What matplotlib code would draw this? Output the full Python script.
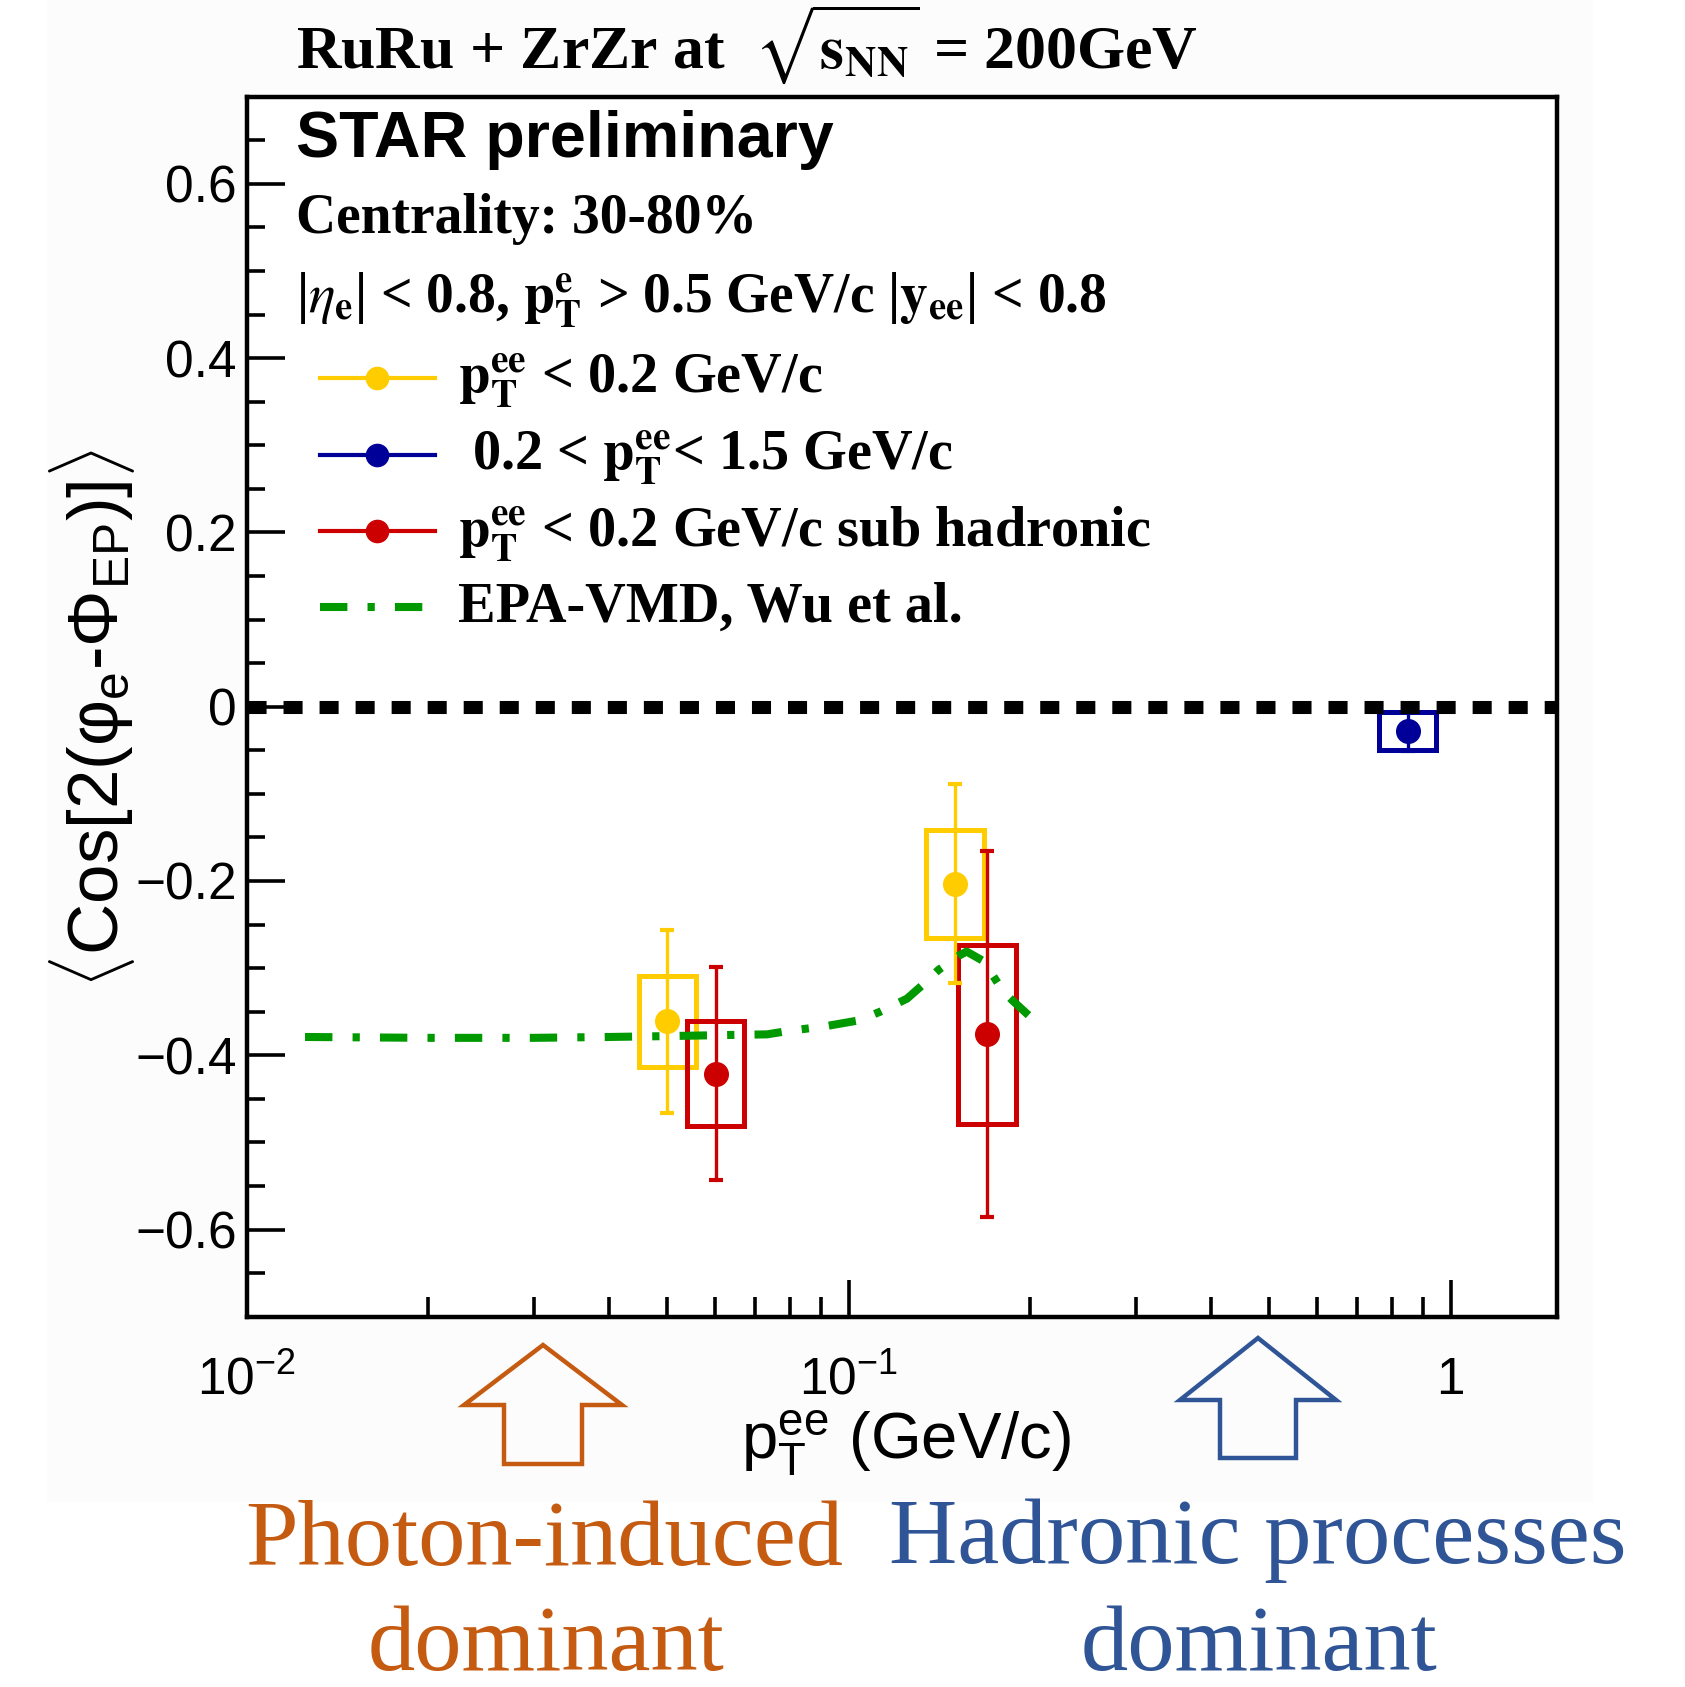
import numpy as np
import matplotlib
matplotlib.use("Agg")
import matplotlib.pyplot as plt
from matplotlib.patches import Rectangle, Polygon
from matplotlib.lines import Line2D
from matplotlib.transforms import Affine2D
from matplotlib.ticker import MultipleLocator, FixedLocator, FuncFormatter, LogLocator, NullFormatter

# ── Data ─────────────────────────────────────────────────────────────────────
# p_T^ee < 0.2 GeV/c
x_low    = [0.050, 0.150]
y_low    = [-0.361, -0.203]
stat_low = [0.105, 0.114]
sys_low  = [0.052, 0.062]

# p_T^ee < 0.2 GeV/c, hadronic contribution subtracted
x_sub    = [0.0601, 0.1696]
y_sub    = [-0.421, -0.376]
stat_sub = [0.122, 0.210]
sys_sub  = [0.060, 0.103]

# 0.2 < p_T^ee < 1.5 GeV/c
x_high    = [0.848]
y_high    = [-0.028]
stat_high = [0.023]
sys_high  = [0.022]

# EPA-VMD model, Wu et al.
x_model = [0.0125, 0.02, 0.03, 0.04, 0.05, 0.06, 0.0732, 0.0795, 0.0909, 0.1039,
           0.1128, 0.125, 0.1323, 0.141, 0.1522, 0.157, 0.1675, 0.1807, 0.1877, 0.1989]
y_model = [-0.379, -0.380, -0.380, -0.379, -0.378, -0.377, -0.376, -0.372, -0.367, -0.360,
           -0.350, -0.335, -0.320, -0.302, -0.286, -0.281, -0.292, -0.327, -0.338, -0.354]

YELLOW = "#ffcc00"
RED    = "#cc0000"
BLUE   = "#000099"
GREEN  = "#009a00"
ORANGE = "#c55a11"
PBLUE  = "#2f5597"

plt.rcParams["mathtext.fontset"] = "custom"
plt.rcParams["mathtext.rm"] = "Liberation Sans"
plt.rcParams["mathtext.it"] = "Liberation Sans:italic"
plt.rcParams["mathtext.bf"] = "Liberation Sans:bold"
SANS  = ["Liberation Sans", "DejaVu Sans"]
SERIF = ["Liberation Serif", "DejaVu Serif"]

W, H = 1685, 1687
fig = plt.figure(figsize=(W / 100, H / 100), dpi=100)
pix = Affine2D().scale(1 / W, -1 / H).translate(0, 1) + fig.transFigure

# faint grey canvas of the original slide
fig.add_artist(Rectangle((47, 0), 1546, 1502, transform=pix, facecolor="#fcfcfc",
                         edgecolor="none", zorder=-5))

ax = fig.add_axes([246.7 / W, 1 - 1316.7 / H, 1310 / W, 1220 / H])
ax.set_xscale("log")
ax.set_xlim(0.01, 1.5)
ax.set_ylim(-0.7, 0.7)
ax.set_facecolor("white")

# ── Data drawing ──────────────────────────────────────────────────────────────
BOX_DEX = 0.048  # half width of systematic boxes in decades

def sys_boxes(xs, ys, ss, color):
    for x, y, s in zip(xs, ys, ss):
        x0, x1 = x * 10 ** -BOX_DEX, x * 10 ** BOX_DEX
        ax.add_patch(Rectangle((x0, y - s), x1 - x0, 2 * s, facecolor="none",
                               edgecolor=color, lw=3.6, zorder=2))

def points(xs, ys, es, color):
    ax.errorbar(xs, ys, yerr=es, fmt="none", ecolor=color, elinewidth=2.4,
                capsize=5, capthick=3, zorder=3)
    ax.plot(xs, ys, "o", color=color, ms=17, zorder=5)

sys_boxes(x_low, y_low, sys_low, YELLOW)
sys_boxes(x_sub, y_sub, sys_sub, RED)
sys_boxes(x_high, y_high, sys_high, BLUE)
points(x_low, y_low, stat_low, YELLOW)
points(x_sub, y_sub, stat_sub, RED)
points(x_high, y_high, stat_high, BLUE)

ax.plot(x_model, y_model, color=GREEN, lw=5.8, dashes=(3.4, 2.5, 0.9, 2.5),
        dash_capstyle="butt", zorder=4)
ax.axhline(0, color="black", lw=9.4, dashes=(1.46, 1.3), dash_capstyle="butt", zorder=6)

# ── Axes styling ──────────────────────────────────────────────────────────────
for side in ["left", "right", "top", "bottom"]:
    ax.spines[side].set_linewidth(3.2)
ax.yaxis.set_major_locator(MultipleLocator(0.2))
ax.yaxis.set_minor_locator(MultipleLocator(0.05))
ax.yaxis.set_major_formatter(FuncFormatter(
    lambda v, p: "0" if abs(v) < 1e-9 else f"{v:.1f}".replace("-", "\u2212")))
ax.xaxis.set_major_locator(FixedLocator([0.01, 0.1, 1]))
ax.xaxis.set_major_formatter(FuncFormatter(
    lambda v, p: {0.01: r"$10^{-2}$", 0.1: r"$10^{-1}$", 1: "1"}.get(round(v, 4), "")))
ax.xaxis.set_minor_locator(LogLocator(base=10, subs=np.arange(2, 10)))
ax.xaxis.set_minor_formatter(NullFormatter())
ax.tick_params(axis="both", which="both", direction="in", top=False, right=False,
               labelsize=37, width=2.6)
ax.tick_params(axis="y", which="major", length=27.5, pad=7)
ax.tick_params(axis="y", which="minor", length=13)
ax.tick_params(axis="x", which="major", length=26.5, pad=28)
ax.tick_params(axis="x", which="minor", length=14.5)
for lab in ax.get_xticklabels() + ax.get_yticklabels():
    lab.set_family(SANS)

ax.set_ylabel(r"$\langle$Cos[2(φ$_{\mathrm{e}}$-Φ$_{\mathrm{EP}}$)]$\rangle$",
              fontsize=51, family=SANS)
ax.yaxis.set_label_coords(-0.084, 0.49)
ax.set_xlabel(r"$\mathrm{p}_{\mathrm{T}}^{\mathrm{ee}}$ (GeV/c)", fontsize=47, family=SANS)
ax.xaxis.set_label_coords(0.503, -0.104)
ax.xaxis.label.set_va("center")

# ── Header texts ──────────────────────────────────────────────────────────────
def serif_text(x, y, s, size, **kw):
    fig.text(x, y, s, transform=pix, fontsize=size, family=SERIF, weight="bold",
             math_fontfamily="stix", va="baseline", **kw)

serif_text(296, 68, r"RuRu + ZrZr at  $\sqrt{\mathbf{s}_{\mathbf{NN}}}$ = 200GeV", 44.5)
fig.text(296, 157, "STAR preliminary", transform=pix, fontsize=46.5, family=SANS,
         weight="bold", va="baseline")
serif_text(296, 233, "Centrality: 30-80%", 40)
serif_text(296, 312, r"|$\eta_{\mathbf{e}}$| < 0.8, $\mathbf{p}_{\mathbf{T}}^{\mathbf{e}}$ > 0.5 GeV/c"
           r" |$\mathbf{y}_{\mathbf{ee}}$| < 0.8", 40)

# ── Legend ────────────────────────────────────────────────────────────────────
PT = r"$\mathbf{p}_{\mathbf{T}}^{\mathbf{ee}}$"
legend_rows = [
    (378, YELLOW, PT + " < 0.2 GeV/c", "marker"),
    (455, BLUE, " 0.2 < " + PT + "< 1.5 GeV/c", "marker"),
    (531, RED, PT + " < 0.2 GeV/c sub hadronic", "marker"),
    (607, GREEN, "EPA-VMD, Wu et al.", "model"),
]
for ly, col, lab, kind in legend_rows:
    if kind == "marker":
        fig.add_artist(Line2D([320, 435], [ly, ly], transform=pix, color=col, lw=3))
        fig.add_artist(Line2D([377], [ly], transform=pix, color=col, marker="o", ms=16))
    else:
        fig.add_artist(Line2D([320, 423], [ly, ly], transform=pix, color=col, lw=5.8,
                              dashes=(3.4, 2.5, 0.9, 2.5), dash_capstyle="butt"))
    serif_text(458, ly + 15, lab, 40.5)

# ── Slide annotations below the plot ─────────────────────────────────────────
def block_arrow(tip_x, tip_y, head_y, head_w, shaft_w, bottom_y, color):
    verts = [(tip_x, tip_y), (tip_x + head_w / 2, head_y), (tip_x + shaft_w / 2, head_y),
             (tip_x + shaft_w / 2, bottom_y), (tip_x - shaft_w / 2, bottom_y),
             (tip_x - shaft_w / 2, head_y), (tip_x - head_w / 2, head_y)]
    fig.add_artist(Polygon(verts, closed=True, transform=pix, facecolor="none",
                           edgecolor=color, lw=3.2, joinstyle="miter"))

block_arrow(543, 1345, 1405, 158, 78, 1464, ORANGE)
block_arrow(1258, 1338, 1400, 156, 76, 1458, PBLUE)

for x, y, s, c in [(544, 1565, "Photon-induced", ORANGE), (546, 1670, "dominant", ORANGE),
                   (1258, 1563, "Hadronic processes", PBLUE), (1259, 1670, "dominant", PBLUE)]:
    fig.text(x, y, s, transform=pix, fontsize=68, family=SERIF, color=c,
             ha="center", va="baseline")

fig.savefig("out.png", dpi=100)
